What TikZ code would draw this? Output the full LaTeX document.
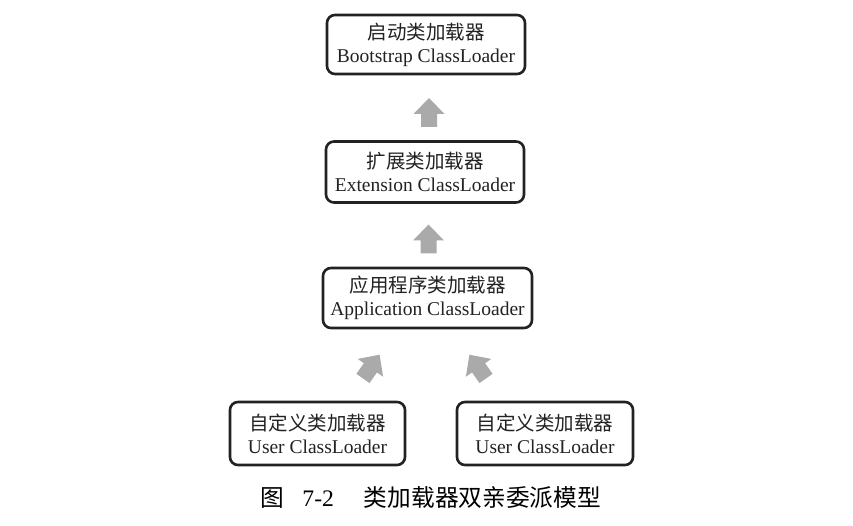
\documentclass[tikz,border=0pt]{standalone}
\usepackage{fontspec}
\setmainfont{Liberation Serif}
\newfontfamily\cjk{Noto Sans CJK SC}
\definecolor{ink}{HTML}{222222}
\definecolor{arrowgray}{HTML}{AAAAAA}
\tikzset{
  loader/.style={draw=ink, line width=2.6pt, rounded corners=8pt, fill=white,
    align=center, text=ink, inner sep=0pt,
    font=\fontsize{19.5}{23}\selectfont},
  blockarrow/.pic={
    \fill[arrowgray] (0,15) -- (15.5,-1) -- (8,-1) -- (8,-14) -- (-8,-14)
      -- (-8,-1) -- (-15.5,-1) -- cycle;
  }
}
\begin{document}
\begin{tikzpicture}[x=1pt,y=1pt]
\path[use as bounding box, fill=white] (0,0) rectangle (853,-526);

\node[loader, minimum width=198pt, minimum height=59pt] (boot) at (426,-44.5)
  {{\cjk 启动类加载器}\\Bootstrap ClassLoader};
\node[loader, minimum width=198pt, minimum height=61pt] (ext) at (425,-172)
  {{\cjk 扩展类加载器}\\Extension ClassLoader};
\node[loader, minimum width=209pt, minimum height=60pt] (app) at (427.5,-298)
  {{\cjk 应用程序类加载器}\\Application ClassLoader};
\node[loader, minimum width=175pt, minimum height=63pt] (user1) at (317.5,-433.5)
  {{\cjk 自定义类加载器}\\User ClassLoader};
\node[loader, minimum width=176pt, minimum height=63pt] (user2) at (545,-433.5)
  {{\cjk 自定义类加载器}\\User ClassLoader};

\pic at (429,-113) {blockarrow};
\pic at (428.5,-239.5) {blockarrow};
\pic[rotate=-35] at (371,-367) {blockarrow};
\pic[rotate=35] at (478,-367) {blockarrow};

\node[anchor=west, text=black, inner sep=0pt, font=\fontsize{23.7}{26}\selectfont]
  (caption) at (260,-498)
  {{\cjk 图}\hspace{18.5pt}7-2\hspace{30pt}{\cjk 类加载器双亲委派模型}};
\end{tikzpicture}
\end{document}
